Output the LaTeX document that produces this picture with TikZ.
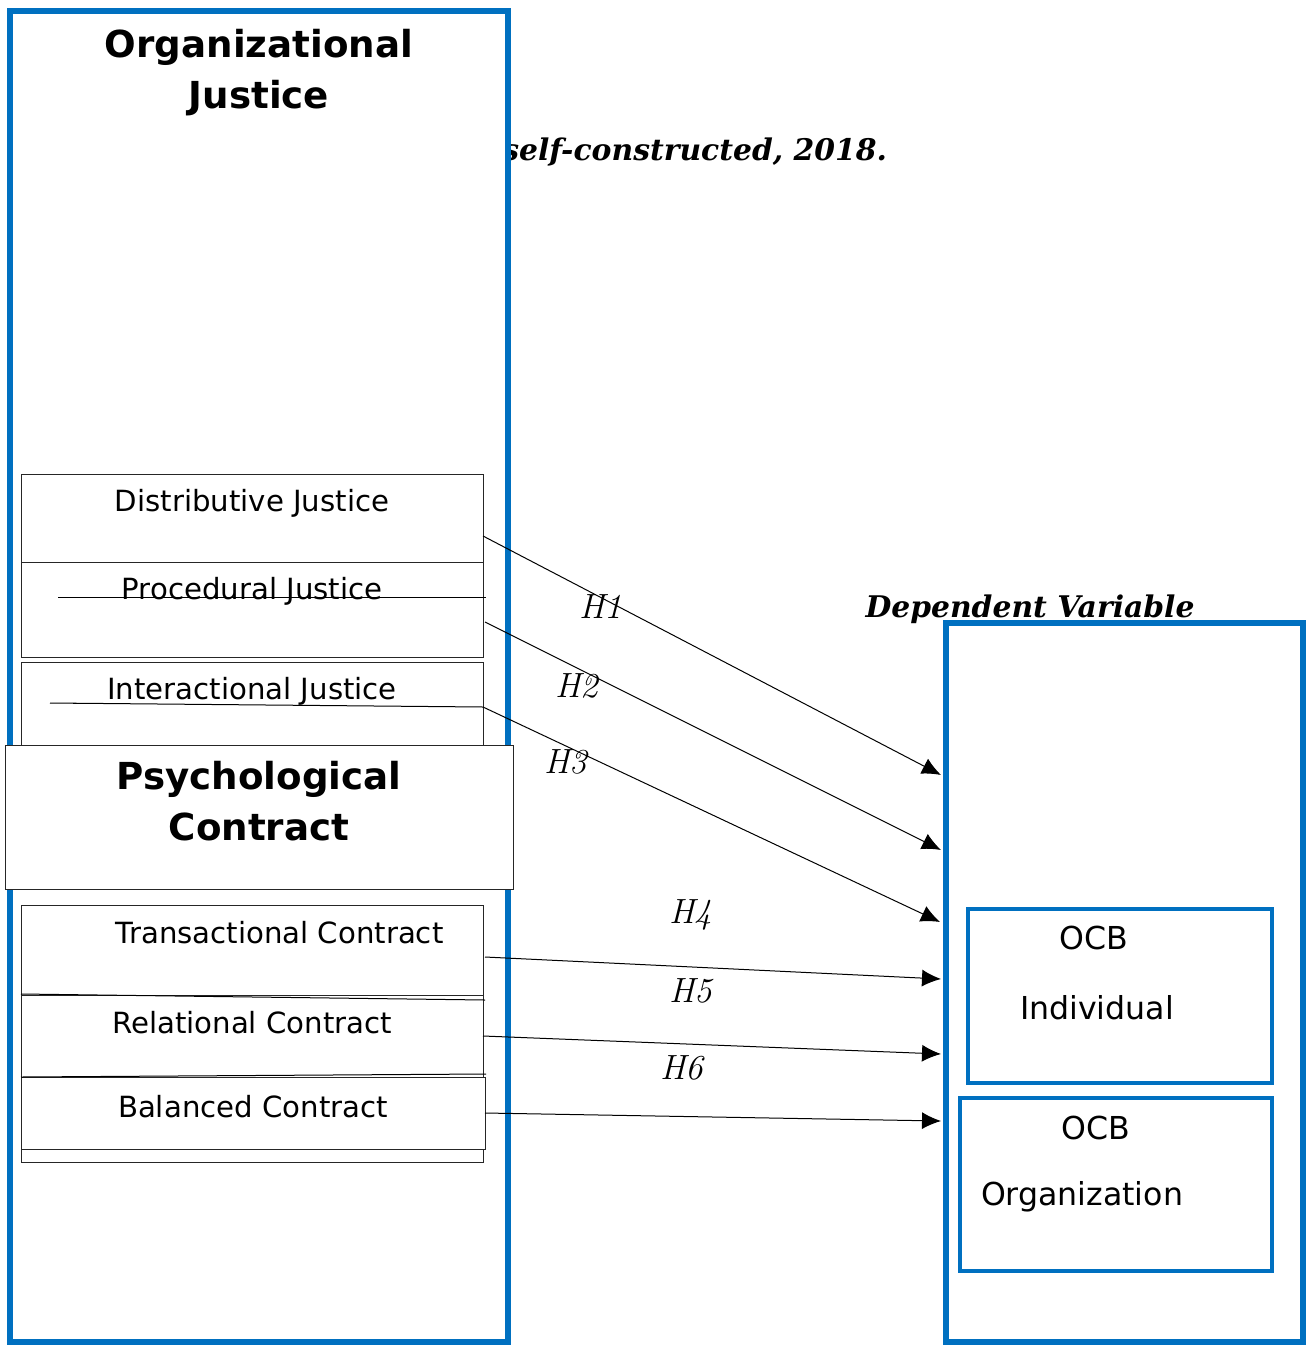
\documentclass[tikz,border=0pt]{standalone}
\usepackage{fontspec}
\setsansfont{DejaVu Sans}
\newfontfamily\dvserif{DejaVu Serif}
\usetikzlibrary{arrows.meta,calc,positioning}
\definecolor{ocbblue}{RGB}{0,112,192}
\tikzstyle{frame} = [draw=ocbblue, line width=3pt, fill=white, anchor=north west, outer sep=0pt]
\tikzstyle{inbox} = [draw=ocbblue, line width=1.75pt, anchor=north west, outer sep=0pt]
\tikzstyle{cell} = [draw=black!85, line width=0.5pt, fill=white, anchor=north west, outer sep=0pt, minimum width=231pt]
\tikzstyle{head} = [font=\sffamily\bfseries\fontsize{18.6}{25.5}\selectfont, align=center]
\tikzstyle{lbl} = [font=\sffamily\fontsize{14.6}{17}\selectfont]
\tikzstyle{ocb} = [font=\sffamily\fontsize{15.8}{19}\selectfont]
\tikzstyle{note} = [font=\dvserif\bfseries\itshape\fontsize{14.9}{18}\selectfont]
\tikzstyle{hlbl} = [font=\itshape\fontsize{17.5}{20}\selectfont]
\tikzstyle{hyp} = [draw, line width=0.5pt, -{Latex[length=9.5pt,width=8.5pt]}]

\begin{document}
\begin{tikzpicture}[x=0.5pt,y=-0.5pt]
        \useasboundingbox (0,0) rectangle (1309,1348);
        % source line, mostly under the left frame
        \node [note, anchor=base east] (src) at (894,161) {self-constructed, 2018.};
        % independent variables
        \node [frame, minimum width=249pt, minimum height=665.5pt] (oj) at (10,11) {};
        \node [head] (ojt) at (259,72.5) {Organizational\\Justice};
        \node [cell, minimum height=44pt] (dj) at (21,474) {};
        \node [cell, minimum height=47.5pt] (pj) at (21,562) {};
        \node [cell, minimum height=49pt] (ij) at (21,662) {};
        \node [lbl] (djt) at (252,503) {Distributive Justice};
        \node [lbl] (pjt) at (252,591) {Procedural Justice};
        \node [lbl] (ijt) at (252,691) {Interactional Justice};
        \draw [line width=0.5pt] (58,597) -- (486,597);
        \draw [line width=0.5pt] (73,703) -- (102,703);
        \draw [line width=0.5pt] (50,703) -- (483,707);
        \node [cell, minimum width=254pt, minimum height=72pt] (pc) at (5,745) {};
        \node [head] (pct) at (259,801.5) {Psychological\\Contract};
        \node [cell, minimum height=128.5pt] (ctr) at (21,905) {};
        \node [cell, minimum height=45pt] (tc) at (21,905) {};
        \node [cell, minimum height=41pt] (rc) at (21,995) {};
        \node [cell, minimum width=232pt, minimum height=36pt] (bc) at (21,1077) {};
        \draw [line width=0.5pt] (21,994) -- (485,1000);
        \draw [line width=0.5pt] (21,1077) -- (486,1074);
        \node [lbl] (tct) at (279.5,933) {Transactional Contract};
        \node [lbl] (rct) at (252,1023) {Relational Contract};
        \node [lbl] (bct) at (253,1107) {Balanced Contract};
        % dependent variable
        \node [note, anchor=base] (dvt) at (1030,617) {Dependent Variable};
        \node [frame, minimum width=178.5pt, minimum height=359.5pt] (dv) at (946,623) {};
        \node [inbox, minimum width=152pt, minimum height=87pt] (ocbi) at (968,909) {};
        \node [inbox, minimum width=156pt, minimum height=86.5pt] (ocbo) at (960,1098) {};
        \node [ocb] (ocbi1) at (1094,938) {OCB};
        \node [ocb] (ocbi2) at (1097,1008) {Individual};
        \node [ocb] (ocbo1) at (1096,1128) {OCB};
        \node [ocb] (ocbo2) at (1082,1197) {Organization};
        % hypotheses
        \coordinate (e1) at (941,775);
        \coordinate (e2) at (941,850);
        \coordinate (e3) at (940,922);
        \coordinate (e4) at (941,979);
        \coordinate (e5) at (941,1054);
        \coordinate (e6) at (941,1121);
        \draw [hyp] ($(dj.east)+(0,18)$) -- (e1);
        \draw [hyp] ($(pj.east)+(2,12.5)$) -- (e2);
        \draw [hyp] ($(ij.east)+(0,-4)$) -- (e3);
        \draw [hyp] ($(tc.east)+(2,7)$) -- (e4);
        \draw [hyp] (rc.east) -- (e5);
        \draw [hyp] (bc.east) -- (e6);
        \node [hlbl] (h1) at (601,607) {H1};
        \node [hlbl] (h2) at (577,686) {H2};
        \node [hlbl] (h3) at (566,762) {H3};
        \node [hlbl] (h4) at (691,915) {H4};
        \node [hlbl] (h5) at (691,991) {H5};
        \node [hlbl] (h6) at (682,1068) {H6};
    \end{tikzpicture}
\end{document}
